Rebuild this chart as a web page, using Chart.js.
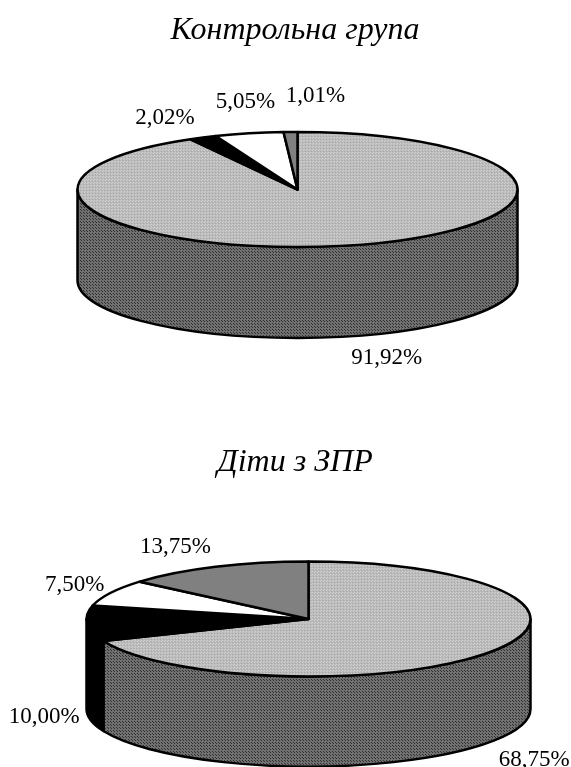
<!DOCTYPE html>
<html>
<head>
<meta charset="utf-8">
<script src="https://cdn.jsdelivr.net/npm/chart.js@4"></script>
<style>
html, body { margin: 0; padding: 0; background: #fff; overflow: hidden; width: 571px; height: 767px; }
canvas { position: absolute; left: 0; }
</style>
</head>
<body>
<canvas id="controlChart" style="top:0"></canvas>
<canvas id="zprChart" style="top:425px"></canvas>
<script>
// дані діаграм
const controlTitle = 'Контрольна група';
const controlValues = [91.92, 2.02, 5.05, 1.01];
const zprTitle = 'Діти з ЗПР';
const zprValues = [68.75, 10.00, 7.50, 13.75];

// зсув підпису від краю сектора, px
const controlNudge = [[34, 113], [-38, -20], [-3.5, -31], [25, -36]];
const zprNudge = [[41, 109], [-43, 93], [-36, -8], [-40, -19.5]];

const FONT = '"Liberation Serif", "Times New Roman", serif';

// штрихування як у старих діаграмах Excel
function stipple(light, dark, squash) {
    const c = document.createElement('canvas');
    c.width = 3; c.height = 3;
    const g = c.getContext('2d');
    g.fillStyle = light;
    g.fillRect(0, 0, 3, 3);
    g.fillStyle = dark;
    g.fillRect(0, 0, 1, 1);
    g.fillRect(2, 2, 1, 1);
    const p = g.createPattern(c, 'repeat');
    if (squash) p.setTransform(new DOMMatrix().scale(1, 1 / squash));
    return p;
}

// псевдо-3D: стискаємо сектори Chart.js і домальовуємо бокову стінку
const pie3d = {
    id: 'pie3d',
    beforeDatasetsDraw(chart, args, o) {
        const ctx = chart.ctx;
        const arcs = chart.getDatasetMeta(0).data;
        const sideFill = [stipple('#707070', '#303030'), '#000', '#fff', '#808080'];
        const r = arcs[0].outerRadius;
        const ry = r * o.squash;
        ctx.lineWidth = 2.5;
        ctx.lineJoin = 'round';
        ctx.strokeStyle = '#000';

        // стінка видна лише в передній половині
        arcs.forEach((arc, i) => {
            const a0 = Math.max(arc.startAngle, 0);
            const a1 = Math.min(arc.endAngle, Math.PI);
            if (a1 <= a0) return;
            ctx.beginPath();
            ctx.ellipse(o.cx, o.cy, r, ry, 0, a0, a1);
            ctx.ellipse(o.cx, o.cy + o.depth, r, ry, 0, a1, a0, true);
            ctx.closePath();
            ctx.fillStyle = sideFill[i];
            ctx.fill();
            ctx.stroke();
        });

        // верхня грань
        arcs.forEach(arc => {
            ctx.save();
            ctx.translate(o.cx, o.cy);
            ctx.scale(1, o.squash);
            ctx.translate(-arc.x, -arc.y);
            arc.draw(ctx);
            ctx.restore();

            ctx.beginPath();
            ctx.moveTo(o.cx, o.cy);
            ctx.ellipse(o.cx, o.cy, r, ry, 0, arc.startAngle, arc.endAngle);
            ctx.closePath();
            ctx.stroke();
        });

        // підписи
        ctx.font = '23px ' + FONT;
        ctx.fillStyle = '#000';
        ctx.textAlign = 'center';
        ctx.textBaseline = 'middle';
        arcs.forEach((arc, i) => {
            const mid = (arc.startAngle + arc.endAngle) / 2;
            const x = o.cx + r * Math.cos(mid) + o.nudge[i][0];
            const y = o.cy + ry * Math.sin(mid) + o.nudge[i][1];
            ctx.fillText(o.values[i].toFixed(2).replace('.', ',') + '%', x, y);
        });
        return false;
    }
};

function makePie(id, height, title, values, nudge, cx, cy, depth, radius, titlePad) {
    const canvas = document.getElementById(id);
    canvas.style.width = '590px';
    canvas.style.height = height + 'px';
    canvas.width = 590;
    canvas.height = height;
    const squash = 57.5 / radius;
    new Chart(canvas.getContext('2d'), {
        type: 'pie',
        data: {
            labels: values.map(v => v.toFixed(2)),
            datasets: [{
                data: values,
                backgroundColor: [
                    stipple('#cfcfcf', '#808080', squash),
                    '#000', '#fff', '#808080'
                ],
                borderWidth: 0
            }]
        },
        plugins: [pie3d],
        options: {
            responsive: false,
            animation: false,
            radius: radius,
            plugins: {
                legend: { display: false },
                tooltip: { enabled: false },
                title: {
                    display: true,
                    text: title,
                    color: '#000',
                    font: { family: FONT, size: 32, style: 'italic', weight: 'normal' },
                    padding: { top: titlePad, bottom: 0 }
                },
                pie3d: { cx: cx, cy: cy, depth: depth, squash: squash, nudge: nudge, values: values }
            }
        }
    });
}

makePie('controlChart', 380, controlTitle, controlValues, controlNudge, 297.5, 189.5, 91, 220, 11);
makePie('zprChart', 342, zprTitle, zprValues, zprNudge, 308.5, 194, 90, 222, 18);
</script>
</body>
</html>
